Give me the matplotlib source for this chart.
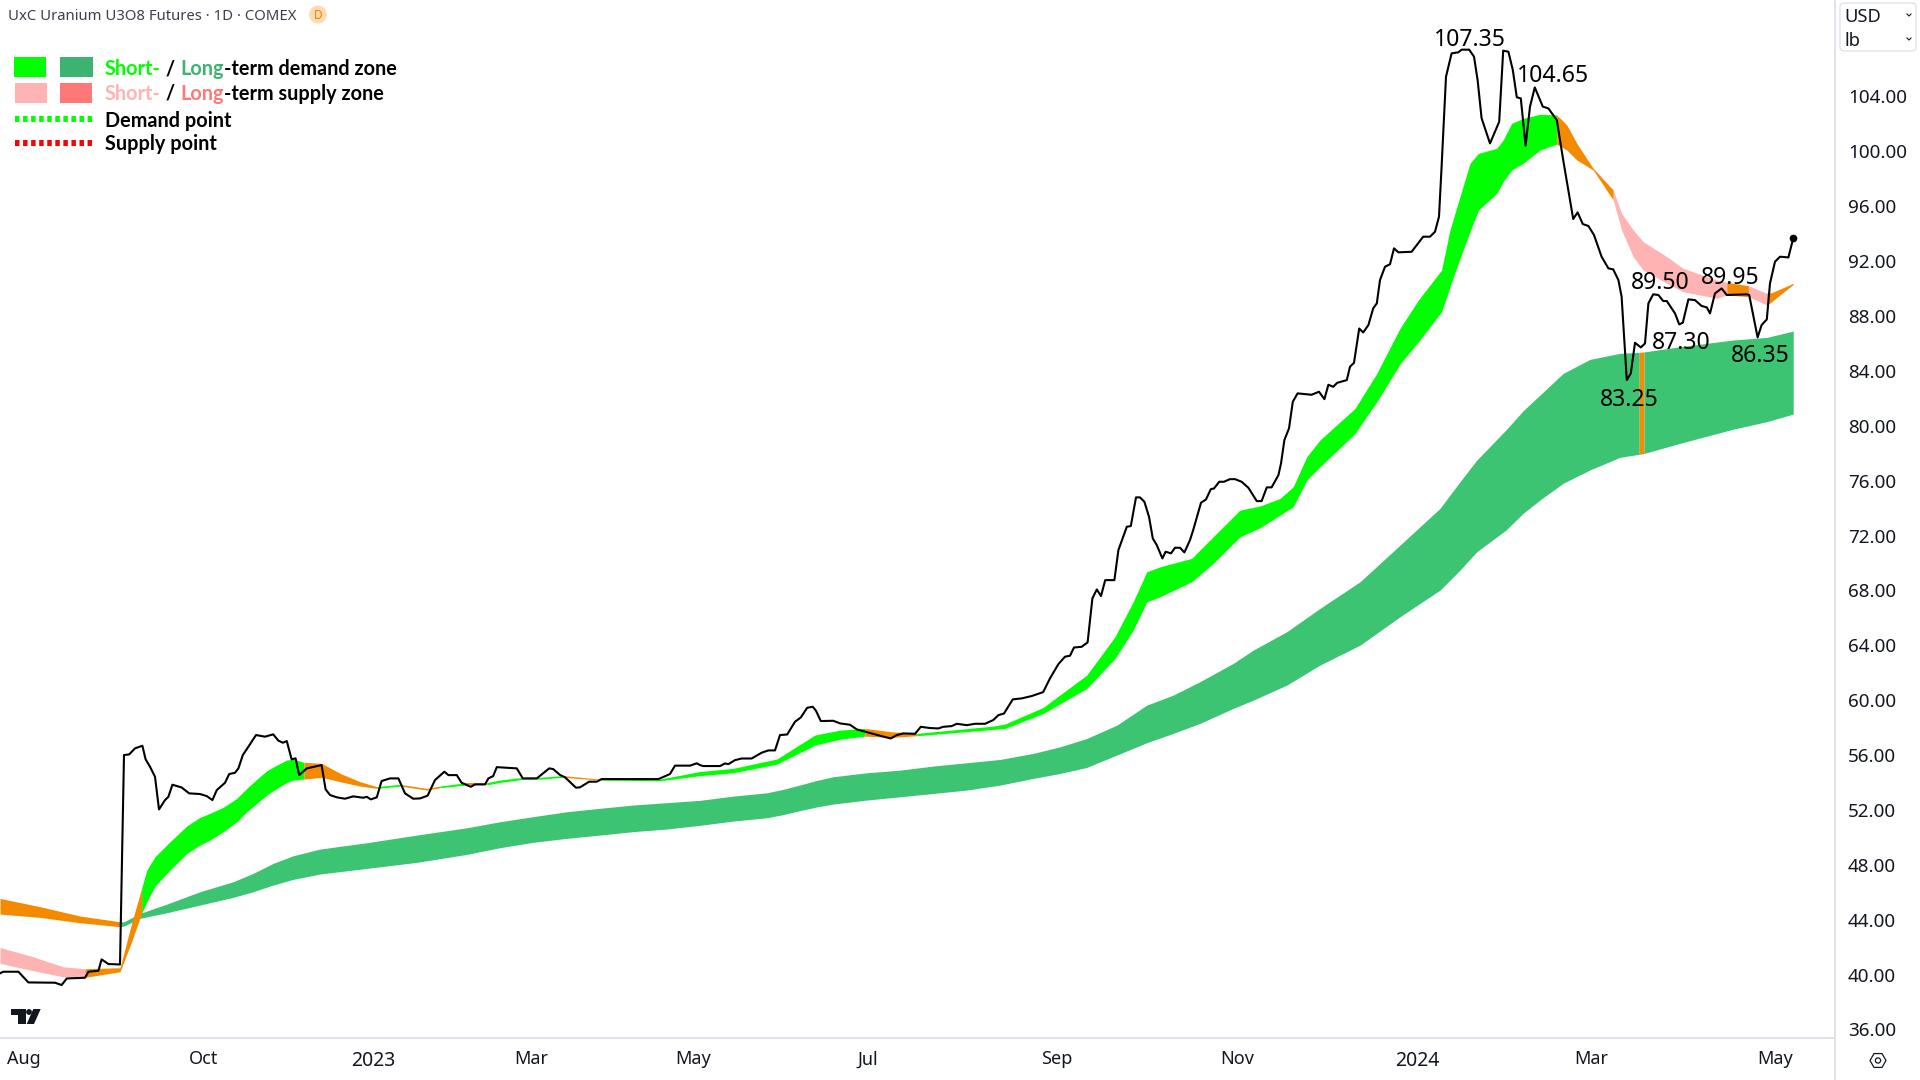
import numpy as np
import matplotlib
matplotlib.use("Agg")
import matplotlib.pyplot as plt
from matplotlib.patches import Rectangle, Circle, Polygon, FancyBboxPatch, RegularPolygon
from matplotlib.transforms import Affine2D
from matplotlib.lines import Line2D

# ---- data (x = session number on the chart, y = USD/lb) ----
price_x = [0,0.8,4.6,7.1,13.75,15.4,16.7,21.25,22.1,24.6,25.4,27.1,30,31,32.3,33.75,35.6,36.4,37.5,38.75,39.75,41.25,42.1,43.1,45.4,47.3,50,51.7,53.1,54.2,56.25,57.3,58.75,59.6,60.7,62.1,64,66.25,68.3,69.6,70.7,71.7,72.9,73.9,74.8,76.7,80.4,81.4,82.5,84.2,86.25,88.3,90.8,91.7,92.7,94.2,95.4,97.5,99.6,101.25,103.3,105,106.9,108.75,111.1,112.1,114.2,115.4,117.7,118.75,121.25,122.1,123.3,124.2,129.2,130.7,134.2,137.3,138.3,140,141.25,144,145,147.3,149.2,150.4,164.6,167.5,168.75,172.5,174.2,175,175.8,180,181.25,182.1,183.75,185.4,187.9,190.4,192.1,193.75,195,196.8,198.75,200.2,201.8,203.2,204,205.2,208.3,210,212.5,214.2,220.4,222.7,224.2,225.8,228.75,230.2,232.5,234.6,235.8,237.9,239.2,241.7,243.75,246.25,248.3,249.6,251,253.2,255.4,257.9,260.8,262.5,264.6,266.25,267.5,268.5,270.4,271.9,273.1,274.2,275.25,276.3,278.6,279.6,281.7,282.7,284,285,286.1,287.25,288.2,289.2,290.6,291.4,292.75,293.75,295,296.1,297.5,298.3,300.25,301.5,302.7,303.5,304.8,306,307.5,308.75,310.4,312.1,314.2,315.4,316.7,317.9,319.6,320.25,321.1,322.25,323.2,324.4,327.9,329.75,331.1,332.1,333.3,334.3,336.7,337.5,338.5,339.8,340.8,342.1,343.3,344.2,345,346.25,347.5,348.5,349.6,352.9,355.8,357.5,358.75,359.75,360.4,360.8,361.5,362.9,364.6,365.4,367.3,368.5,369.4,370.4,372.5,374.8,375.8,377.1,378.2,379.2,380.2,381.4,382.5,383.7,385.7,387.1,389.2,390.8,393.3,394.4,395.7,397.1,398.5,400.4,402.1,403.3,404.6,405.4,406.7,407.7,408.75,410.2,411.25,412.1,413.3,414.6,415.8,416.7,418.75,419.8,420.7,422.1,423.75,425.4,426.7,427.5,428.75,430.4,431.7,436.7,437.3,439.4,440.4,441.7,442.5,443.75,445,447.1,448.3]
price_y = [40.09,40.21,40.21,39.43,39.41,39.24,39.72,39.77,40.21,40.28,41.11,40.77,40.74,56.0,56.05,56.49,56.68,55.69,55.15,54.42,52.04,52.72,52.96,53.84,53.64,53.21,53.16,53.01,52.72,53.45,53.98,54.62,54.71,55.03,56.0,56.61,57.46,57.34,57.51,57.05,56.9,57.02,55.69,55.76,54.54,55.03,55.27,53.5,53.09,52.92,52.82,52.99,52.89,52.96,52.77,52.92,54.11,54.3,54.3,53.21,52.82,52.84,53.04,54.18,54.79,54.54,54.54,53.98,53.69,53.86,53.86,54.3,54.47,55.12,55.03,54.3,54.3,55.03,54.98,54.55,54.38,53.62,53.65,54.06,54.06,54.25,54.25,54.62,55.23,55.23,55.4,55.27,55.2,55.2,55.39,55.34,55.63,55.75,55.75,56.17,56.34,56.34,57.46,57.5,58.43,58.74,59.45,59.52,59.23,58.48,58.5,58.31,58.21,57.87,57.38,57.21,57.46,57.58,57.55,58.06,57.97,57.94,58.06,58.11,58.28,58.18,58.28,58.28,58.55,58.91,59.03,60.06,60.13,60.3,60.59,61.59,62.63,63.17,63.24,63.84,63.89,64.21,67.42,68.07,67.59,68.75,68.75,70.94,72.64,72.69,74.78,74.78,74.46,73.37,71.79,71.3,70.33,70.82,70.7,71.11,71.11,70.77,71.67,72.4,74.39,74.63,75.38,75.43,75.92,75.92,76.11,76.11,75.92,75.48,74.51,74.51,75.51,75.51,76.4,77.25,78.96,79.81,81.75,82.36,82.26,82.48,81.94,82.99,82.84,83.13,83.33,84.3,84.59,87.09,86.8,87.34,88.56,88.92,90.62,91.59,91.77,92.93,92.64,92.68,93.78,93.78,94.14,95.24,98.88,101.31,105.44,107.14,107.22,107.41,107.41,106.9,105.2,102.41,100.58,102.16,107.34,107.26,105.93,103.94,103.86,100.41,103.26,104.66,103.26,103.13,102.28,99.37,95.07,95.55,94.7,94.56,93.9,92.32,91.47,91.4,90.62,89.41,83.33,83.82,86.05,85.71,86.0,88.92,89.58,89.53,89.09,89.09,88.19,87.39,87.51,89.21,89.16,88.73,88.63,88.19,89.65,90.01,89.53,89.58,89.53,86.44,87.34,87.75,90.38,91.96,92.32,92.27,93.66]

short_x = [0,8.3,15.8,21.25,30,32.9,35.4,36.7,38.75,42.5,46.7,50,52.5,55.8,59.2,61.7,64.2,66.7,69.2,71.7,73.3,76,80.4,85,90,94.2,100,106.7,110,116.7,121.7,125,130.8,135,140.8,150,165,175,183.3,194.2,203.75,210,216.25,222.9,229.2,248.3,251.25,260.8,271.7,278.75,283.3,286.7,290,297.9,303.3,310,315,320,323.3,326.7,330,338.75,344.2,350,354.6,360.4,362.5,365,367.5,369.6,374.2,375.8,377.9,380.8,385,389.2,391.7,394.2,398.3,403.3,405.4,408.3,410.8,416.7,420.8,429.2,431.7,437.1,441.7,442.9,448.3]
short_upper = [41.98,41.3,40.57,40.43,40.5,43.73,46.28,47.62,48.59,49.68,50.83,51.46,51.75,52.19,52.84,53.57,54.23,54.86,55.27,55.64,55.69,55.47,55.4,54.67,54.06,53.7,53.87,53.57,53.74,53.99,53.99,54.18,54.38,54.38,54.5,54.25,54.25,54.8,55.03,55.71,57.46,57.82,57.94,57.7,57.58,58.11,58.26,59.47,61.83,64.62,67.17,69.36,69.72,70.33,71.91,73.85,74.15,74.7,75.55,77.74,78.96,81.26,83.81,87.1,89.16,91.35,94.27,96.7,99.12,99.85,100.22,100.83,102.04,102.4,102.7,102.65,101.92,100.58,98.76,97.18,95.48,94.27,93.42,92.32,91.47,90.62,90.45,90.21,89.65,89.7,90.38]
short_lower = [40.82,40.28,39.84,39.8,40.21,42.4,44.46,45.31,46.45,47.62,48.83,49.44,49.81,50.41,51.14,51.87,52.48,53.09,53.57,54.01,54.18,54.25,54.38,54.06,53.74,53.57,53.74,53.45,53.62,53.82,53.82,54.01,54.23,54.25,54.38,54.18,54.13,54.5,54.71,55.34,56.73,57.16,57.38,57.29,57.41,57.87,57.94,59.03,60.86,63.04,65.11,67.17,67.54,68.63,69.97,71.91,72.57,73.49,74.1,76.04,77.01,79.44,81.75,84.5,86.13,88.31,90.13,92.2,94.14,95.72,96.94,97.79,98.64,99.13,100.1,100.53,100.1,99.37,98.64,96.45,94.27,92.32,91.35,90.38,89.77,89.29,89.53,89.41,88.8,89.04,90.3]

long_x = [0,10,20,30,31,35,41.7,50,58.3,63.3,68.3,73.3,80,91.7,104.2,116.7,125,133.3,141.7,150,158.3,166.7,175,183.3,191.7,195.8,200,204.2,208.3,216.7,225,233.3,241.7,250,258.3,265,271.7,279.2,286.7,293.3,300,308.3,313.3,321.7,330,340,350,360,365,369.2,376.5,380.8,385,390.8,397.5,405,409.8,411,420,433.3,441.7,448.3]
long_upper = [45.55,44.95,44.27,43.85,43.85,44.46,45.14,46.04,46.77,47.38,48.11,48.66,49.15,49.61,50.17,50.7,51.14,51.51,51.87,52.12,52.36,52.53,52.7,53.01,53.25,53.5,53.82,54.15,54.42,54.71,54.9,55.2,55.44,55.68,56.12,56.6,57.21,58.18,59.64,60.37,61.35,62.68,63.65,64.99,66.69,68.63,71.3,73.98,75.92,77.5,79.7,81.1,82.24,83.82,84.84,85.28,85.35,85.38,85.76,86.25,86.44,86.9]
long_lower = [44.41,44.17,43.78,43.49,43.54,44.1,44.51,45.07,45.63,46.04,46.53,46.94,47.33,47.74,48.18,48.76,49.25,49.64,49.93,50.17,50.42,50.61,50.88,51.19,51.43,51.66,51.95,52.22,52.43,52.72,52.96,53.2,53.45,53.81,54.3,54.66,55.1,56.0,56.9,57.58,58.31,59.4,60.0,61.1,62.56,64.01,66.08,68.02,69.48,70.82,72.4,73.62,74.59,75.81,76.78,77.7,77.92,77.98,78.72,79.75,80.3,80.85]

short_zones = [(0,21.25,'pink'),(21.25,35.4,'orange'),(35.4,76,'lime'),(76,94.2,'orange'),(94.2,100,'lime'),(100,110,'orange'),(110,116.7,'lime'),(116.7,121.7,'orange'),(121.7,140.8,'lime'),(140.8,150,'orange'),(150,216.25,'lime'),(216.25,229.2,'orange'),(229.2,389.2,'lime'),(389.2,403.3,'orange'),(403.3,431.7,'pink'),(431.7,437.1,'orange'),(437.1,441.7,'pink'),(441.7,448.3,'orange')]
long_zones = [(0,30,'orange'),(30,409.8,'green'),(409.8,411,'orange'),(411,448.3,'green')]

x_tick_pos = [6,50.8,93.4,132.8,173.3,217,264.3,309.3,354.3,397.8,443.8]
x_tick_labels = ['Aug','Oct','2023','Mar','May','Jul','Sep','Nov','2024','Mar','May']
y_ticks = list(range(36,108,4))

pivot_labels = ['107.35','104.65','89.50','89.95','87.30','86.35','83.25']
pivot_x = [367.5,388.2,415,432.5,420.2,440,407.2]
pivot_y = [108.1,105.47,90.44,90.8,86.05,85.05,81.85]

legend_rows = [
    [('Short-','#00ff00'),(' / ','#000000'),('Long','#3cb371'),('-term demand zone','#000000')],
    [('Short-','#ffb3b3'),(' / ','#000000'),('Long','#ff7878'),('-term supply zone','#000000')],
    [('Demand point','#000000')],
    [('Supply point','#000000')],
]

COL = {'pink':'#ffb3b3','orange':'#f58a00','lime':'#00ff00','green':'#3cc473'}
INK = '#131722'
GRID = '#e0e3eb'
UI = 'Noto Sans'
LEG = 'Lato'

fig = plt.figure(figsize=(19.2,10.8),dpi=100,facecolor='white')
ax = fig.add_axes([0,1-1038/1080,1835/1920,1038/1080])
ax.set_xlim(0,458.75)
ax.set_ylim(35.38,111.03)
px = Affine2D().scale(1,-1).translate(0,1080)

def band(x,up,lo,zones,z):
    x=np.array(x);up=np.array(up);lo=np.array(lo)
    for a,b,c in zones:
        m=(x>=a)&(x<=b)
        ax.fill_between(x[m],up[m],lo[m],color=COL[c],lw=0,zorder=z)

band(long_x,long_upper,long_lower,long_zones,2)
band(short_x,short_upper,short_lower,short_zones,3)
ax.plot(price_x,price_y,color='black',lw=1.5,solid_joinstyle='round',zorder=5)
ax.plot(price_x[-1:],price_y[-1:],'o',color='black',ms=4.5,zorder=6)

for t,x,y in zip(pivot_labels,pivot_x,pivot_y):
    ax.text(x,y,t,ha='center',va='center',fontsize=16.6,family=UI,color='black',zorder=7)

ax.set_xticks(x_tick_pos)
ax.set_xticklabels(x_tick_labels,fontsize=13,family=UI,color=INK)
for lab,t in zip(ax.get_xticklabels(),x_tick_labels):
    if t.startswith('20'):
        lab.set_fontsize(14)
        lab.set_fontweight('semibold')
ax.set_yticks(y_ticks)
ax.set_yticklabels([f'{v:.2f}' for v in y_ticks],fontsize=13.6,family=UI,color=INK,ha='left')
ax.yaxis.tick_right()
ax.tick_params(axis='both',length=0)
ax.tick_params(axis='y',pad=9.4)
ax.tick_params(axis='x',pad=9)
for s in ['top','left']:
    ax.spines[s].set_visible(False)
for s in ['right','bottom']:
    ax.spines[s].set_color(GRID)
    ax.spines[s].set_linewidth(1.4)
fig.add_artist(Line2D([1835,1835],[1038,1080],transform=px,color=GRID,lw=1.4))

# header
fig.text(8,16.5,'UxC Uranium U3O8 Futures · 1D · COMEX',transform=px,fontsize=10.7,family=UI,color='#3c404c',va='center')
fig.add_artist(Circle((318,14.5),9,transform=px,color='#ffdcb0',lw=0))
fig.text(318,15.5,'D',transform=px,fontsize=8.5,family=UI,color='#f57c00',ha='center',va='center',fontweight='bold')

# legend
for x,y,w,h,c in [(14,57,32,20,'#00ff00'),(60,57,33,20,'#3cb371'),(14.5,83,32,20,'#ffb3b3'),(60,83,32,20,'#ff7878')]:
    fig.add_artist(Rectangle((x,y),w,h,transform=px,color=c,lw=0))
fig.add_artist(Line2D([15,92],[119,119],transform=px,color='#00ff00',lw=4.3,dashes=(0.75,0.6)))
fig.add_artist(Line2D([15,92],[142.5,142.5],transform=px,color='#ff0000',lw=4.3,dashes=(0.75,0.6)))
r = fig.canvas.get_renderer()
LS = 14.3
for row,yb in zip(legend_rows,[75,100,127,150]):
    xc=105
    for s,c in row:
        fig.text(xc,yb,s,transform=px,fontsize=LS,family=LEG,fontweight='bold',color=c,va='baseline')
        a=fig.text(0,0,s.replace(' ','i'),fontsize=LS,family=LEG,fontweight='bold')
        xc+=a.get_window_extent(r).width
        a.remove()

# unit box
fig.add_artist(FancyBboxPatch((1843,6),70,42,boxstyle='round,pad=3,rounding_size=4',transform=px,fc='white',ec=GRID,lw=1))
fig.text(1844,17,'USD',transform=px,fontsize=13.2,family=UI,color=INK,va='center')
fig.text(1844,41,'lb',transform=px,fontsize=13.2,family=UI,color=INK,va='center')
for yy in (15,39):
    fig.add_artist(Line2D([1907,1909,1911],[yy-1,yy+1,yy-1],transform=px,color=INK,lw=0.8))

# settings icon
fig.add_artist(RegularPolygon((1878,1060.5),6,radius=8,orientation=np.pi/2,transform=px,fc='none',ec=INK,lw=0.9))
fig.add_artist(Circle((1878,1060.5),2.6,transform=px,fc='none',ec=INK,lw=0.9))

# logo
fig.add_artist(Polygon([(11,1009),(25.7,1009),(25.7,1024),(18.3,1024),(18.3,1015),(11,1015)],transform=px,color=INK,lw=0))
fig.add_artist(Circle((29,1012),2.9,transform=px,color=INK,lw=0))
fig.add_artist(Polygon([(33.3,1009),(40.7,1009),(34,1024),(26.7,1024)],transform=px,color=INK,lw=0))

fig.savefig('out.png',dpi=100)
